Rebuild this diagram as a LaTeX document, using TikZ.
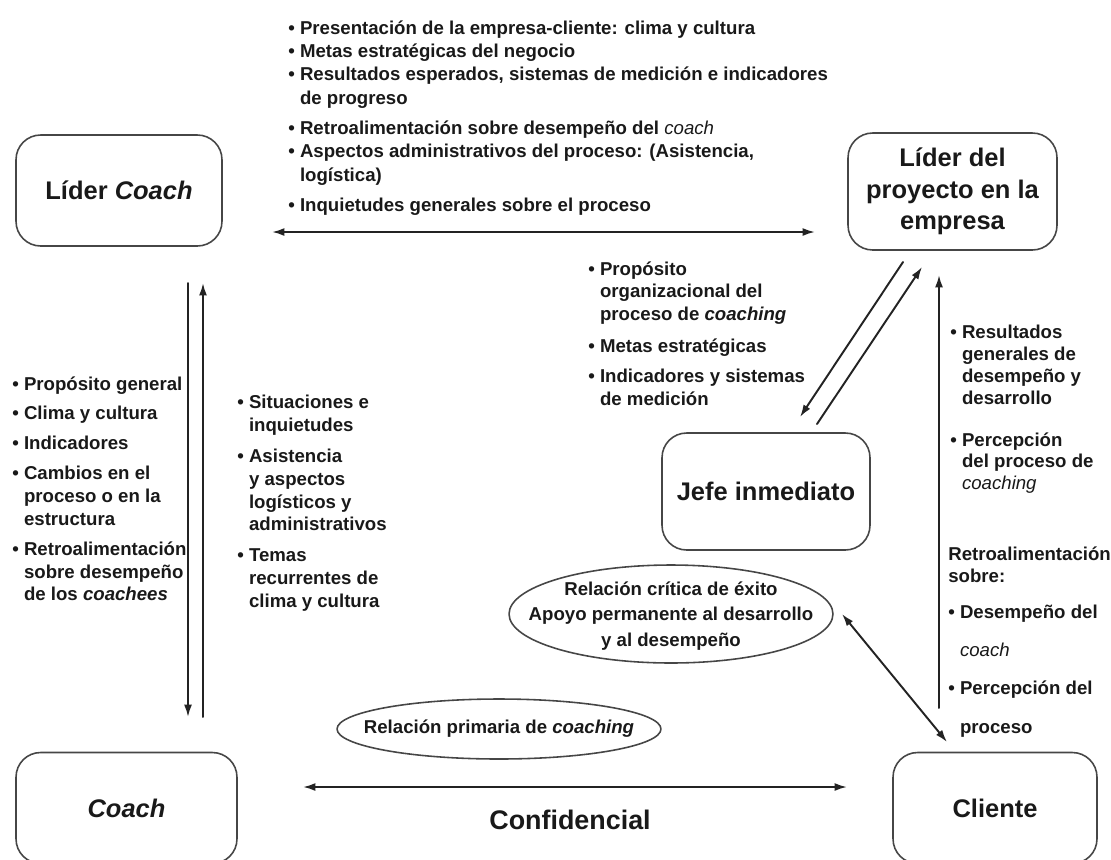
\documentclass[tikz,border=0pt]{standalone}
\usepackage{fontspec}
\setmainfont{Liberation Sans}
\usetikzlibrary{arrows.meta}
\definecolor{boxcol}{RGB}{70,70,70}
\definecolor{arrcol}{RGB}{35,35,35}
\definecolor{txtcol}{RGB}{25,25,25}
\newcommand{\bul}{\textbullet\ }
\newcommand{\ind}{\phantom{\textbullet\ }}
\newcommand{\lite}[1]{{\mdseries\itshape #1}}

\begin{document}
\begin{tikzpicture}[x=0.02cm, y=-0.02cm, line cap=round, line join=round,
  role/.style={draw=boxcol, line width=0.9pt, rounded corners=14pt, align=center,
    text=txtcol, font=\fontsize{14.5}{18}\selectfont\bfseries},
  bubble/.style={align=center, inner sep=0pt,
    text=txtcol, font=\fontsize{10.6}{14.3}\selectfont\bfseries},
  rim/.style={draw=boxcol, line width=0.9pt},
  notes/.style={anchor=north west, inner sep=0pt, align=left, text=txtcol,
    font=\fontsize{10.6}{13}\selectfont\bfseries},
  flow/.style={draw=arrcol, line width=1.1pt, -{Latex[length=7pt,width=4.5pt]}},
  twoway/.style={draw=arrcol, line width=1.1pt,
    {Latex[length=7pt,width=4.5pt]}-{Latex[length=7pt,width=4.5pt]}}]

\useasboundingbox (0,0) rectangle (1111,859);
\clip (0,0) rectangle (1111,859);

% ------------------------------------------------------------------
% Roles (rounded boxes)
% ------------------------------------------------------------------
\node[role, minimum width=4.12cm, minimum height=2.22cm] (lidercoach) at (119,190.5) {Líder \textit{Coach}};
\node[role, minimum width=4.18cm, minimum height=2.34cm] (liderproy) at (952.5,191.5)
  {Líder del\\proyecto en la\\empresa};
\node[role, minimum width=4.16cm, minimum height=2.34cm] (jefe) at (766,491.5) {Jefe inmediato};
\node[role, minimum width=4.42cm, minimum height=2.22cm] (coach) at (126.5,808) {\textit{Coach}};
\node[role, minimum width=4.08cm, minimum height=2.22cm] (cliente) at (995,808) {Cliente};

% ------------------------------------------------------------------
% Relations (text, then a tight ellipse round it)
% ------------------------------------------------------------------
\node[bubble] (critica) at (671,616)
  {Relación crítica de éxito\\Apoyo permanente al desarrollo\\y al desempeño};
\draw[rim] (671,614) ellipse [x radius=3.24cm, y radius=0.98cm];
\node[bubble] (primaria) at (499,729) {Relación primaria de \textit{coaching}};
\draw[rim] (499,729) ellipse [x radius=3.24cm, y radius=0.6cm];

% ------------------------------------------------------------------
% Arrow end points
% ------------------------------------------------------------------
\coordinate (topL) at (272,232);   \coordinate (topR) at (815,232);
\coordinate (botL) at (303,787);   \coordinate (botR) at (847,787);
\coordinate (downA) at (188,283);  \coordinate (downB) at (188,717);
\coordinate (upA) at (203,717);    \coordinate (upB) at (203,283);
\coordinate (diagA) at (903,262);  \coordinate (diagB) at (800,417);
\coordinate (diagC) at (817,424);  \coordinate (diagD) at (922,267);
\coordinate (vertA) at (939,708);  \coordinate (vertB) at (939,275);
\coordinate (jcA) at (842,614);    \coordinate (jcB) at (947,742);

\draw[twoway] (topL) -- (topR);
\draw[twoway] (botL) -- (botR);
\draw[flow] (downA) -- (downB);
\draw[flow] (upA) -- (upB);
\draw[flow] (diagA) -- (diagB);
\draw[flow] (diagC) -- (diagD);
\draw[flow] (vertA) -- (vertB);
\draw[twoway] (jcA) -- (jcB);

% ------------------------------------------------------------------
% Bullet notes
% ------------------------------------------------------------------
\node[notes, font=\fontsize{10.6}{13.3}\selectfont\bfseries] (toplist) at (288,20) {%
  \bul Presentación de la empresa-cliente: clima y cultura\\
  \bul Metas estratégicas del negocio\\
  \bul Resultados esperados, sistemas de medición e indicadores\\
  \ind de progreso\\[4pt]
  \bul Retroalimentación sobre desempeño del \lite{coach}\\
  \bul Aspectos administrativos del proceso: (Asistencia,\\
  \ind logística)\\[4pt]
  \bul Inquietudes generales sobre el proceso};

\node[notes] (leftlist) at (12,376) {%
  \bul Propósito general\\[4pt]
  \bul Clima y cultura\\[4pt]
  \bul Indicadores\\[4pt]
  \bul Cambios en el\\
  \ind proceso o en la\\
  \ind estructura\\[4pt]
  \bul Retroalimentación\\
  \ind sobre desempeño\\
  \ind de los \textit{coachees}};

\node[notes] (sitlist) at (237,395) {%
  \bul Situaciones e\\
  \ind inquietudes\\[4.5pt]
  \bul Asistencia\\
  \ind y aspectos\\
  \ind logísticos y\\
  \ind administrativos\\[4.5pt]
  \bul Temas\\
  \ind recurrentes de\\
  \ind clima y cultura};

\node[notes] (proplist) at (588,261) {%
  \bul Propósito\\
  \ind organizacional del\\
  \ind proceso de \textit{coaching}\\[5pt]
  \bul Metas estratégicas\\[4pt]
  \bul Indicadores y sistemas\\
  \ind de medición};

\node[notes, font=\fontsize{10.6}{12.5}\selectfont\bfseries] (reslist) at (950,325) {%
  \bul Resultados\\
  \ind generales de\\
  \ind desempeño y\\
  \ind desarrollo\\[11pt]
  \bul Percepción\\
  \ind del proceso de\\
  \ind \lite{coaching}};

\node[notes] (retlist) at (948,546) {%
  Retroalimentación\\
  sobre:\\[7.5pt]
  \bul Desempeño del\\[8.5pt]
  \ind \lite{coach}\\[8.5pt]
  \bul Percepción del\\[9pt]
  \ind proceso};

\node[text=txtcol, font=\fontsize{15.3}{18}\selectfont\bfseries] (confid) at (570,820) {Confidencial};

\end{tikzpicture}
\end{document}
